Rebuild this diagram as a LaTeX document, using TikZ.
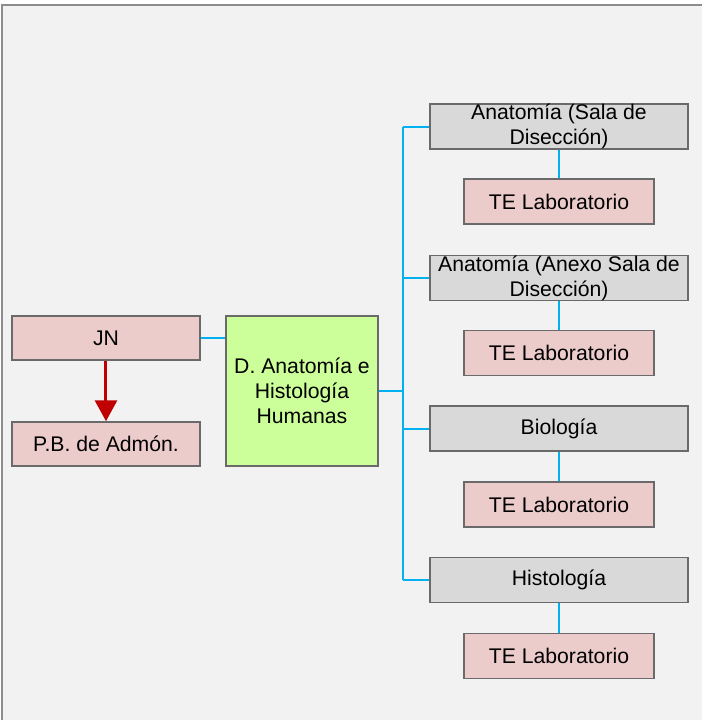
\documentclass[tikz,border=0pt]{standalone}
\usepackage{fontspec}
\setmainfont{Liberation Sans}
\usetikzlibrary{arrows.meta}
\definecolor{bgc}{HTML}{F2F2F2}
\definecolor{framec}{HTML}{8C8C8C}
\definecolor{edgec}{HTML}{6A6A6A}
\definecolor{pinkc}{HTML}{ECCCCB}
\definecolor{grayc}{HTML}{D9D9D9}
\definecolor{greenc}{HTML}{CCFF99}
\definecolor{cyanc}{HTML}{00B0F0}
\definecolor{redc}{HTML}{C00000}
\begin{document}
\begin{tikzpicture}[x=0.5pt,y=-0.5pt,
  box/.style={draw=edgec, line width=0.75pt, rectangle, inner sep=0pt, align=center,
    font=\fontsize{10.6}{12.6}\selectfont, text=black},
  pinkbox/.style={box, fill=pinkc, minimum width=94pt, minimum height=22pt},
  tebox/.style={box, fill=pinkc, minimum width=95pt, minimum height=22.5pt},
  graybox/.style={box, fill=grayc, minimum width=129pt, minimum height=22.5pt},
  greenbox/.style={box, fill=greenc, minimum width=76pt, minimum height=75pt},
  link/.style={draw=cyanc, line width=1pt}]
\clip (0,0) rectangle (702,720);
\useasboundingbox (0,0) rectangle (702,720);
\fill[white] (0,0) rectangle (702,720);
\draw[draw=framec, fill=bgc, line width=1pt] (2,5) rectangle (720,740);

\node[pinkbox] (JN) at (106,338) {JN};
\node[pinkbox] (PB) at (106,444) {P.B. de Admón.};
\node[greenbox] (D) at (302,391) {D. Anatomía e\\Histología\\Humanas};

\node[graybox] (G1) at (559,126.5) {Anatomía (Sala de\\Disección)};
\node[graybox] (G2) at (559,278) {Anatomía (Anexo Sala de\\Disección)};
\node[graybox] (G3) at (559,428.5) {Biología};
\node[graybox] (G4) at (559,580) {Histología};

\node[tebox] (T1) at (559,201.5) {TE Laboratorio};
\node[tebox] (T2) at (559,353) {TE Laboratorio};
\node[tebox] (T3) at (559,504.5) {TE Laboratorio};
\node[tebox] (T4) at (559,656) {TE Laboratorio};

\coordinate (bus) at (403,0);

\draw[link] (JN.east) -- (JN.east -| D.west);
\draw[link] (D.east) -- (D.east -| bus);
\draw[link] (G1.west -| bus) -- (G4.west -| bus);
\foreach \g in {G1,G2,G3,G4} {\draw[link] (\g.west) -- (\g.west -| bus);}
\draw[link] (G1.south) -- (T1.north);
\draw[link] (G2.south) -- (T2.north);
\draw[link] (G3.south) -- (T3.north);
\draw[link] (G4.south) -- (T4.north);

\draw[draw=redc, line width=1.5pt, -{Triangle[length=10.5pt,width=11pt]}] (JN.south) -- (PB.north);
\end{tikzpicture}
\end{document}
